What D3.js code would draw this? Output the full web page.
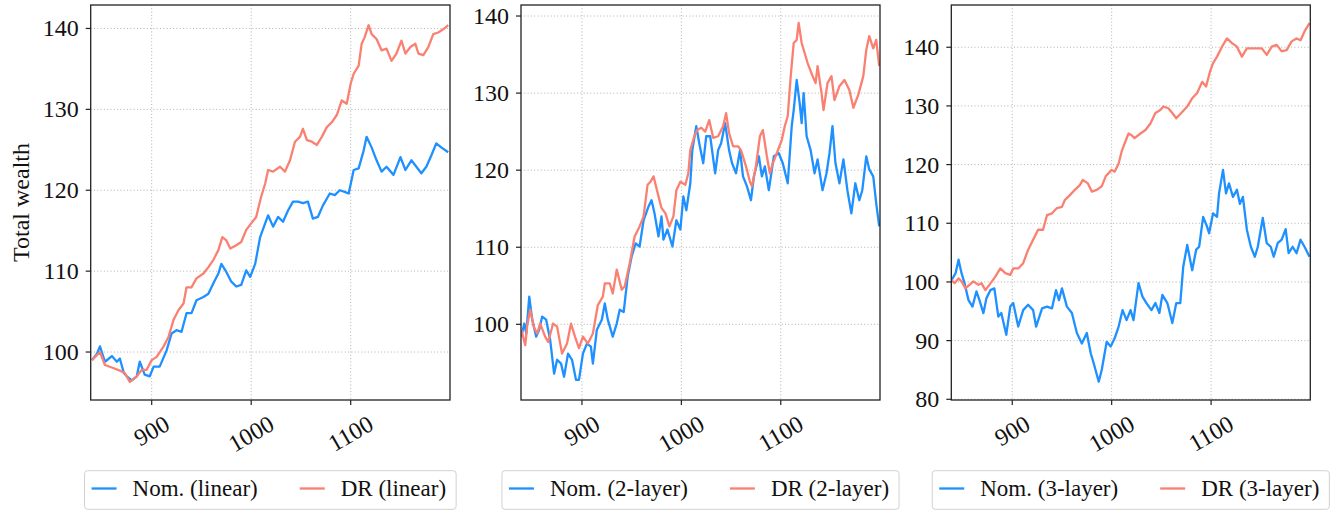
<!DOCTYPE html>
<html><head><meta charset="utf-8">
<script src="https://cdn.jsdelivr.net/npm/d3@7"></script>
<style>body{margin:0;background:#fff}svg{display:block}text{font-family:"Liberation Serif","Times New Roman",serif;fill:#111}</style>
</head><body><svg id="c" width="1334" height="510"></svg>
<script>
// ---------- data ----------
const xTicks = [900, 1000, 1100];
const xDomain = [838.7, 1199.8];

const linNomT = [840,845,848,853,860,865,868,872,875,880,885,888,893,898,902,908,915,920,925,930,935,940,945,952,957,962,967,970,975,980,985,990,995,999,1004,1009,1014,1017,1022,1027,1032,1037,1042,1047,1052,1057,1062,1067,1072,1079,1084,1089,1094,1098,1103,1108,1113,1116,1121,1126,1131,1136,1143,1150,1155,1161,1166,1171,1176,1181,1186,1191,1198];
const linNomV = [99.0,99.8,100.7,98.8,99.5,98.8,99.2,97.4,97.0,96.5,97.0,98.8,97.2,97.0,98.2,98.2,100.2,102.3,102.7,102.5,104.8,104.8,106.4,106.8,107.2,108.5,109.7,110.9,109.9,108.7,108.1,108.3,110.1,109.3,110.9,114.2,115.9,116.9,115.5,116.7,116.1,117.5,118.6,118.6,118.4,118.6,116.5,116.7,118.1,119.6,119.4,120.0,119.8,119.6,122.5,122.7,124.9,126.6,125.3,123.7,122.3,122.9,121.9,124.1,122.5,123.7,122.9,122.1,122.9,124.3,125.8,125.3,124.7];
const linDrT = [840,848,853,862,868,873,878,885,890,895,900,905,912,917,922,927,932,935,940,945,952,957,962,967,971,975,979,985,990,995,1000,1005,1010,1014,1017,1022,1029,1034,1039,1044,1049,1052,1056,1061,1066,1071,1076,1081,1086,1091,1096,1100,1103,1108,1111,1114,1118,1121,1126,1131,1136,1141,1146,1151,1155,1160,1165,1168,1173,1178,1183,1188,1193,1198];
const linDrV = [99.0,100.0,98.4,98.0,97.7,97.4,96.3,97.0,97.8,97.8,99.0,99.4,100.7,101.9,104.0,105.2,106.0,108.0,108.0,109.1,109.7,110.5,111.4,112.6,114.2,113.8,112.8,113.2,113.6,115.1,115.9,116.7,119.2,120.8,122.5,122.3,122.9,122.3,123.7,126.0,126.6,127.6,126.2,126.0,125.6,126.6,127.8,128.4,129.3,131.1,130.7,133.2,134.4,135.4,138.1,138.9,140.4,139.3,138.7,137.3,137.5,136.0,136.9,138.5,136.9,137.7,138.1,136.9,136.7,137.7,139.3,139.5,139.9,140.4];

const twoNomT = [839,842,844,847,850,854,857,860,864,868,872,875,879,882,886,890,894,897,901,905,909,911,915,920,923,926,931,935,938,942,946,950,954,958,962,967,970,973,977,980,982,986,991,995,999,1002,1005,1009,1011,1015,1018,1022,1025,1029,1034,1037,1040,1044,1048,1051,1055,1059,1062,1066,1070,1073,1078,1081,1084,1088,1093,1098,1102,1107,1111,1113,1116,1119,1121,1123,1126,1130,1134,1137,1142,1146,1149,1152,1155,1159,1163,1167,1171,1175,1179,1182,1186,1189,1193,1196,1199];
const twoNomV = [98.4,100.1,98.8,103.6,100.6,98.4,99.3,101.0,100.6,98.0,93.6,95.4,94.9,93.2,96.2,95.4,92.8,92.8,96.2,97.5,97.1,94.9,99.3,100.6,102.7,100.6,98.4,100.1,101.9,101.6,106.2,108.8,110.5,110.1,113.5,115.3,116.1,114.4,111.4,114.0,111.0,112.3,110.1,113.5,112.3,116.6,114.8,118.3,122.6,125.7,123.5,120.9,124.4,124.4,119.6,122.6,123.5,126.1,122.6,120.9,119.6,122.6,119.2,117.9,116.1,119.2,121.8,119.2,120.5,117.4,121.8,122.2,120.9,118.3,125.7,127.8,131.7,128.7,126.1,130.0,124.4,122.6,119.6,121.4,117.4,119.6,122.2,125.7,120.9,118.3,121.4,117.4,114.4,118.3,116.1,117.4,121.8,120.1,119.2,115.7,112.7];
const twoDrT = [839,843,845,848,852,855,858,863,866,871,875,880,885,889,893,897,901,906,911,916,921,923,928,931,935,940,943,948,953,958,962,966,969,972,977,980,984,988,992,995,999,1004,1007,1009,1013,1016,1020,1024,1028,1032,1037,1042,1045,1048,1052,1057,1060,1065,1069,1071,1075,1079,1082,1086,1089,1092,1096,1101,1104,1107,1110,1113,1116,1118,1121,1124,1127,1132,1135,1137,1141,1143,1147,1151,1154,1159,1164,1169,1173,1178,1183,1186,1189,1193,1196,1199];
const twoDrV = [99.3,97.3,99.9,101.9,99.5,98.8,100.1,98.4,97.7,100.1,99.7,96.2,97.5,100.1,98.4,96.9,98.4,97.5,98.8,102.5,103.6,105.3,105.3,104.0,107.1,104.5,104.9,107.9,111.4,112.7,114.0,118.1,118.5,119.2,116.6,115.1,114.4,112.7,114.0,117.4,118.5,118.1,119.6,122.6,124.4,125.2,125.5,125.0,126.5,124.2,124.4,125.7,127.4,124.8,123.1,123.1,122.6,120.5,118.5,117.9,120.5,124.4,125.2,121.8,119.6,120.9,122.2,123.9,125.7,127.0,132.2,136.5,136.9,139.1,136.5,135.2,133.9,132.2,131.3,133.5,130.0,127.8,131.3,132.2,129.1,130.9,131.7,130.4,128.1,129.8,132.2,135.6,137.4,135.8,136.9,133.5];

const threeNomT = [839,843,846,849,852,856,860,864,867,871,874,878,882,886,889,894,898,901,906,911,916,921,924,930,935,940,944,947,950,955,960,965,970,975,979,982,987,990,995,999,1003,1007,1011,1015,1019,1022,1027,1031,1035,1040,1044,1048,1051,1056,1061,1065,1069,1072,1076,1081,1085,1088,1092,1096,1098,1102,1106,1108,1112,1115,1118,1122,1126,1129,1132,1136,1140,1144,1147,1152,1156,1160,1163,1167,1171,1175,1178,1182,1186,1190,1194,1199];
const threeNomV = [100.3,101.5,103.8,101.5,99.8,96.9,95.8,98.4,96.9,94.7,97.2,98.6,98.9,94.1,94.7,91.0,95.8,96.4,92.4,95.2,96.1,95.2,92.4,95.5,95.8,95.5,98.6,96.9,98.9,95.8,94.7,91.3,89.5,91.3,87.8,86.1,83.0,85.0,89.8,89.0,90.4,92.4,95.2,93.5,95.2,93.5,99.8,97.5,96.4,95.2,96.4,94.7,97.8,96.4,93.0,96.4,96.4,102.6,106.3,102.0,105.5,106.0,111.1,109.4,108.3,111.7,111.1,115.1,119.1,115.1,116.8,114.5,115.7,113.3,114.5,108.9,106.0,104.3,106.0,110.9,106.6,106.0,104.3,106.6,107.2,109.0,104.9,106.0,104.9,107.2,106.0,104.3];
const threeDrT = [839,842,846,849,853,857,861,866,869,873,877,883,888,893,898,901,906,911,916,921,926,931,935,940,945,950,953,958,963,968,971,976,980,985,990,994,1000,1003,1007,1010,1013,1017,1020,1023,1029,1034,1039,1044,1049,1052,1057,1061,1065,1070,1076,1081,1086,1091,1095,1099,1102,1106,1111,1116,1121,1126,1131,1136,1141,1146,1151,1156,1161,1166,1171,1176,1181,1186,1190,1194,1199];
const threeDrV = [100.3,99.8,100.6,100.1,98.9,99.5,100.1,99.5,99.8,98.6,99.5,100.9,102.3,101.5,101.2,102.3,102.3,103.2,105.5,107.2,108.9,108.9,111.4,111.7,112.6,112.8,114.0,114.8,115.7,116.5,117.4,116.8,115.4,115.7,116.3,118.0,119.1,118.8,120.2,122.2,123.6,125.3,125.0,124.5,125.3,125.9,127.0,128.8,129.3,129.9,129.6,128.8,127.9,128.8,129.9,131.3,132.2,134.1,133.3,135.9,137.3,138.4,140.1,141.5,140.7,140.1,138.4,139.8,139.8,139.8,139.8,138.7,140.1,140.4,139.3,139.5,141.0,141.5,141.2,142.7,144.1];

const yTicks1 = [100,110,120,130,140];
const yTicks2 = [100,110,120,130,140];
const yTicks3 = [80,90,100,110,120,130,140];
const names = ["linear","2-layer","3-layer"];
const blue = "#1e90ff", red = "#fa8072";

const panels = [
  {left:90.7, right:450, yDom:[94.07,142.9], yTicks:yTicks1, nom:[linNomT,linNomV], dr:[linDrT,linDrV], name:names[0], ylabel:true},
  {left:521, right:880, yDom:[90.18,141.43], yTicks:yTicks2, nom:[twoNomT,twoNomV], dr:[twoDrT,twoDrV], name:names[1]},
  {left:951.3, right:1310.3, yDom:[79.88,147.2], yTicks:yTicks3, nom:[threeNomT,threeNomV], dr:[threeDrT,threeDrV], name:names[2]}
];
const plotTop = 5, plotBottom = 400;
const svg = d3.select("#c");
const FS = 24, LFS = 23;

panels.forEach((p, pi) => {
  const x = d3.scaleLinear().domain(xDomain).range([p.left, p.right]);
  const y = d3.scaleLinear().domain(p.yDom).range([plotBottom, plotTop]);
  const g = svg.append("g");
  const clipId = "clip" + pi;
  svg.append("clipPath").attr("id", clipId).append("rect")
    .attr("x", p.left).attr("y", plotTop).attr("width", p.right - p.left).attr("height", plotBottom - plotTop);
  // grid
  g.selectAll(".gx").data(xTicks).join("line")
    .attr("x1", d => x(d)).attr("x2", d => x(d)).attr("y1", plotTop).attr("y2", plotBottom)
    .attr("stroke", "#b0b0b0").attr("stroke-width", 1).attr("stroke-dasharray", "1,2.3");
  g.selectAll(".gy").data(p.yTicks).join("line")
    .attr("x1", p.left).attr("x2", p.right).attr("y1", d => y(d)).attr("y2", d => y(d))
    .attr("stroke", "#b0b0b0").attr("stroke-width", 1).attr("stroke-dasharray", "1,2.3");
  // lines
  const line = d3.line().x(d => x(d[0])).y(d => y(d[1]));
  const lg = g.append("g").attr("clip-path", `url(#${clipId})`);
  [[p.nom, blue], [p.dr, red]].forEach(([s, col]) => {
    const pts = s[0].map((t, i) => [t, s[1][i]]);
    lg.append("path").datum(pts).attr("d", line).attr("fill", "none")
      .attr("stroke", col).attr("stroke-width", 2.3).attr("stroke-linejoin", "round");
  });
  // frame
  g.append("rect").attr("x", p.left).attr("y", plotTop).attr("width", p.right - p.left).attr("height", plotBottom - plotTop)
    .attr("fill", "none").attr("stroke", "#222").attr("stroke-width", 1.3);
  // y ticks
  g.selectAll(".ty").data(p.yTicks).join("line")
    .attr("x1", p.left - 5).attr("x2", p.left).attr("y1", d => y(d)).attr("y2", d => y(d))
    .attr("stroke", "#222").attr("stroke-width", 1.2);
  g.selectAll(".ly").data(p.yTicks).join("text")
    .attr("x", p.left - 12).attr("y", d => y(d)).attr("dy", "0.33em")
    .attr("text-anchor", "end").attr("font-size", FS).text(d => d);
  // x ticks
  g.selectAll(".tx").data(xTicks).join("line")
    .attr("x1", d => x(d)).attr("x2", d => x(d)).attr("y1", plotBottom).attr("y2", plotBottom + 5)
    .attr("stroke", "#222").attr("stroke-width", 1.2);
  g.selectAll(".lx").data(xTicks).join("text")
    .attr("text-anchor", "middle").attr("dominant-baseline", "central").attr("font-size", FS)
    .text(d => d)
    .each(function(d) {
      const w = this.getComputedTextLength();
      const h = FS * 0.66;
      const bh = w * 0.5 + h * 0.866;
      d3.select(this).attr("transform", `translate(${x(d)},${415 + bh / 2}) rotate(-30)`);
    });
  if (p.ylabel) {
    g.append("text").attr("transform", `translate(21,${(plotTop + plotBottom) / 2}) rotate(-90)`)
      .attr("text-anchor", "middle").attr("dominant-baseline", "central").attr("font-size", FS)
      .text("Total wealth");
  }
  // legend
  const leg = svg.append("g");
  const t1 = leg.append("text").attr("font-size", LFS).text(`Nom. (${p.name})`);
  const t2 = leg.append("text").attr("font-size", LFS).text(`DR (${p.name})`);
  const w1 = t1.node().getComputedTextLength(), w2 = t2.node().getComputedTextLength();
  const padL = 7, padR = 10, hl = 25, hg = 16, colGap = 42;
  const bw = padL + hl + hg + w1 + colGap + hl + hg + w2 + padR;
  const cx = (p.left + p.right) / 2;
  const bx = cx - bw / 2, by = 470.7, bhh = 38.6;
  leg.insert("rect", "text").attr("x", bx).attr("y", by).attr("width", bw).attr("height", bhh)
    .attr("rx", 3).attr("fill", "#fff").attr("stroke", "#d0d0d0").attr("stroke-width", 1);
  const ly = by + bhh / 2 - 1.5;
  leg.append("line").attr("x1", bx + padL).attr("x2", bx + padL + hl).attr("y1", ly).attr("y2", ly)
    .attr("stroke", blue).attr("stroke-width", 2.3);
  t1.attr("x", bx + padL + hl + hg).attr("y", ly).attr("dy", "0.33em");
  const x2 = bx + padL + hl + hg + w1 + colGap;
  leg.append("line").attr("x1", x2).attr("x2", x2 + hl).attr("y1", ly).attr("y2", ly)
    .attr("stroke", red).attr("stroke-width", 2.3);
  t2.attr("x", x2 + hl + hg).attr("y", ly).attr("dy", "0.33em");
});
</script></body></html>
